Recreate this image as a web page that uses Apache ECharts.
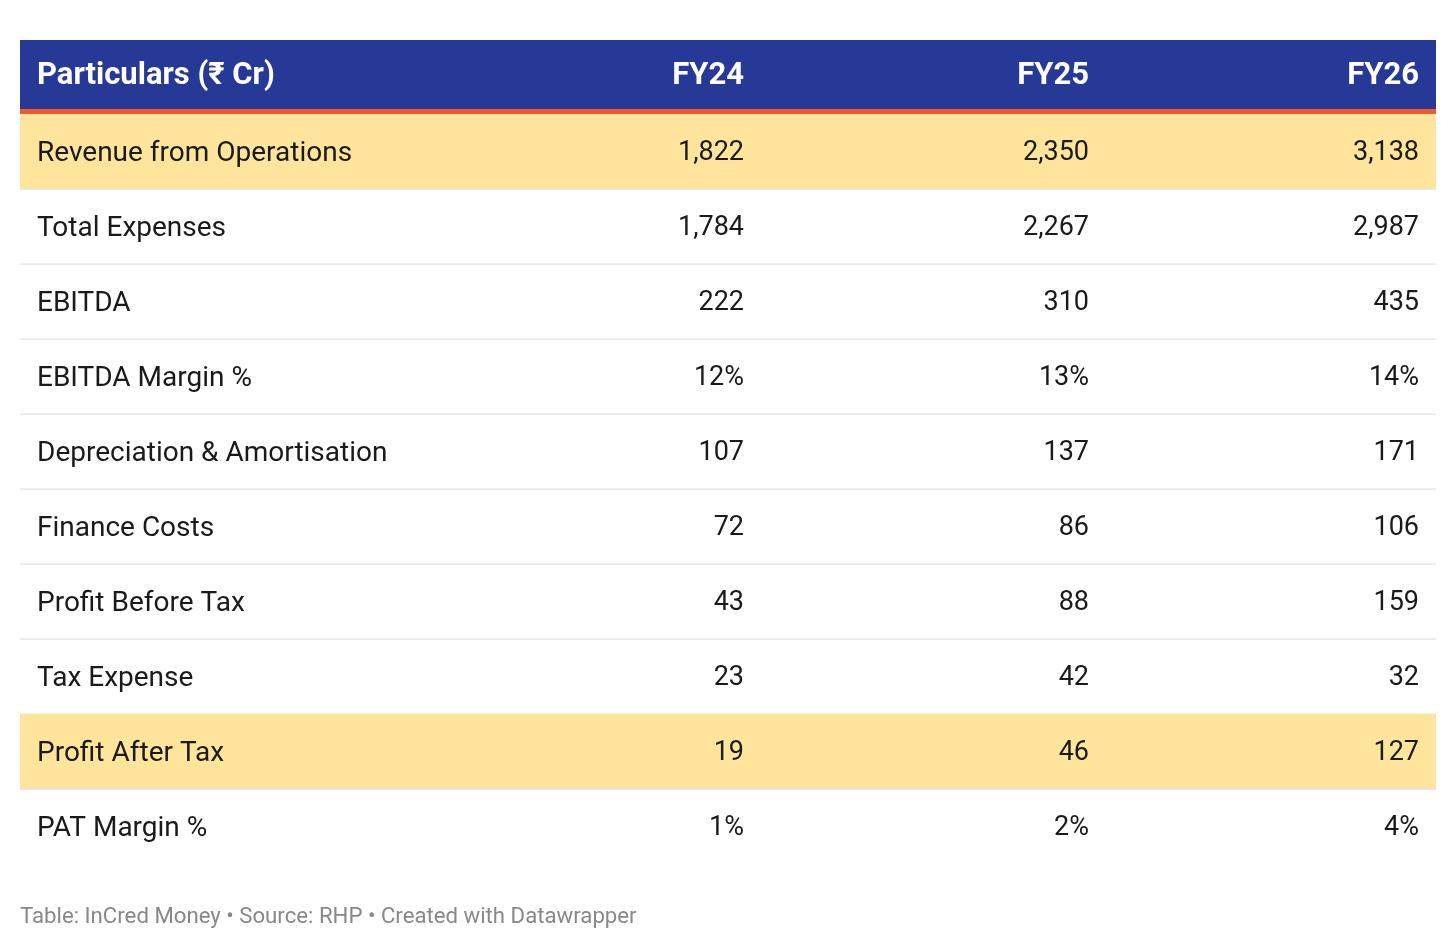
<!DOCTYPE html>
<html><head><meta charset="utf-8">
<script src="https://cdn.jsdelivr.net/npm/echarts@6/dist/echarts.min.js"></script>
<style>html,body{margin:0;padding:0;background:#fff}#c{width:1456px;height:948px}</style>
</head><body><div id="c"></div>
<script>
const columns = ['Particulars (₹ Cr)', 'FY24', 'FY25', 'FY26'];
const particulars = ['Revenue from Operations', 'Total Expenses', 'EBITDA', 'EBITDA Margin %',
  'Depreciation & Amortisation', 'Finance Costs', 'Profit Before Tax', 'Tax Expense',
  'Profit After Tax', 'PAT Margin %'];
const fy24 = [1822, 1784, 222, 12, 107, 72, 43, 23, 19, 1];
const fy25 = [2350, 2267, 310, 13, 137, 86, 88, 42, 46, 2];
const fy26 = [3138, 2987, 435, 14, 171, 106, 159, 32, 127, 4];
const highlightRows = ['Revenue from Operations', 'Profit After Tax'];
const sourceNote = 'Table: InCred Money • Source: RHP • Created with Datawrapper';

// layout (table units, width 1416)
const TABLE_W = 1416;
const colRight = [null, 741, 1086, 1416];
const PAD = 17;
const FONT = 'Roboto, "Noto Sans", sans-serif';

const valueCols = [fy24, fy25, fy26];
function fmt(v, name) {
  const s = v.toLocaleString('en-US');
  return name.trim().endsWith('%') ? s + '%' : s;
}

const chart = echarts.init(document.getElementById('c'), null, {renderer: 'canvas'});
chart.setOption({
  animation: false,
  backgroundColor: '#ffffff',
  title: {
    text: sourceNote, left: 15, top: 901,
    textStyle: {fontSize: 22.2, fontWeight: 'normal', color: '#888888', fontFamily: FONT}
  },
  grid: [
    {left: 20, right: 20, top: 40, height: 74},
    {left: 20, right: 20, top: 114, height: 750}
  ],
  xAxis: [
    {gridIndex: 0, type: 'value', min: 0, max: TABLE_W, show: false},
    {gridIndex: 1, type: 'value', min: 0, max: TABLE_W, show: false}
  ],
  yAxis: [
    {gridIndex: 0, type: 'category', data: ['header'], show: false},
    {gridIndex: 1, type: 'category', data: particulars, inverse: true, show: false}
  ],
  series: [
    {
      type: 'custom', xAxisIndex: 0, yAxisIndex: 0,
      data: [[0, 0]], encode: {x: 0, y: 1},
      renderItem: function (params, api) {
        const cs = params.coordSys;
        const bandH = cs.height - 5;
        const children = [
          {type: 'rect', shape: {x: cs.x, y: cs.y, width: cs.width, height: bandH}, style: {fill: '#263996'}},
          {type: 'rect', shape: {x: cs.x, y: cs.y + bandH, width: cs.width, height: 5}, style: {fill: '#F15A29'}}
        ];
        columns.forEach(function (c, i) {
          const x = i === 0 ? api.coord([PAD, 0])[0] : api.coord([colRight[i] - PAD, 0])[0];
          children.push({type: 'text', style: {
            text: c, x: x, y: cs.y + bandH / 2 + 2, fill: '#ffffff',
            font: 'bold 31px ' + FONT, align: i === 0 ? 'left' : 'right', verticalAlign: 'middle'
          }});
        });
        return {type: 'group', children: children};
      }
    },
    {
      type: 'custom', xAxisIndex: 1, yAxisIndex: 1,
      data: particulars.map(function (p, i) { return [0, i]; }), encode: {x: 0, y: 1},
      renderItem: function (params, api) {
        const cs = params.coordSys;
        const i = params.dataIndex;
        const name = particulars[i];
        const center = api.coord([0, api.value(1)]);
        const h = api.size([0, 1])[1];
        const top = center[1] - h / 2;
        const children = [];
        if (highlightRows.indexOf(name) >= 0) {
          children.push({type: 'rect', shape: {x: cs.x, y: top, width: cs.width, height: h}, style: {fill: '#FEE59B'}});
        }
        if (i < particulars.length - 1) {
          children.push({type: 'rect', shape: {x: cs.x, y: top + h - 0.5, width: cs.width, height: 1.3}, style: {fill: '#E2E2E4'}});
        }
        children.push({type: 'text', style: {
          text: name, x: api.coord([PAD, 0])[0], y: center[1] + 2, fill: '#1a1a1a',
          font: '28px ' + FONT, align: 'left', verticalAlign: 'middle'
        }});
        valueCols.forEach(function (col, k) {
          children.push({type: 'text', style: {
            text: fmt(col[i], name), x: api.coord([colRight[k + 1] - PAD, 0])[0], y: center[1] + 2,
            fill: '#1a1a1a', font: '27px ' + FONT, align: 'right', verticalAlign: 'middle'
          }});
        });
        return {type: 'group', children: children};
      }
    }
  ]
});
</script>
</body></html>
